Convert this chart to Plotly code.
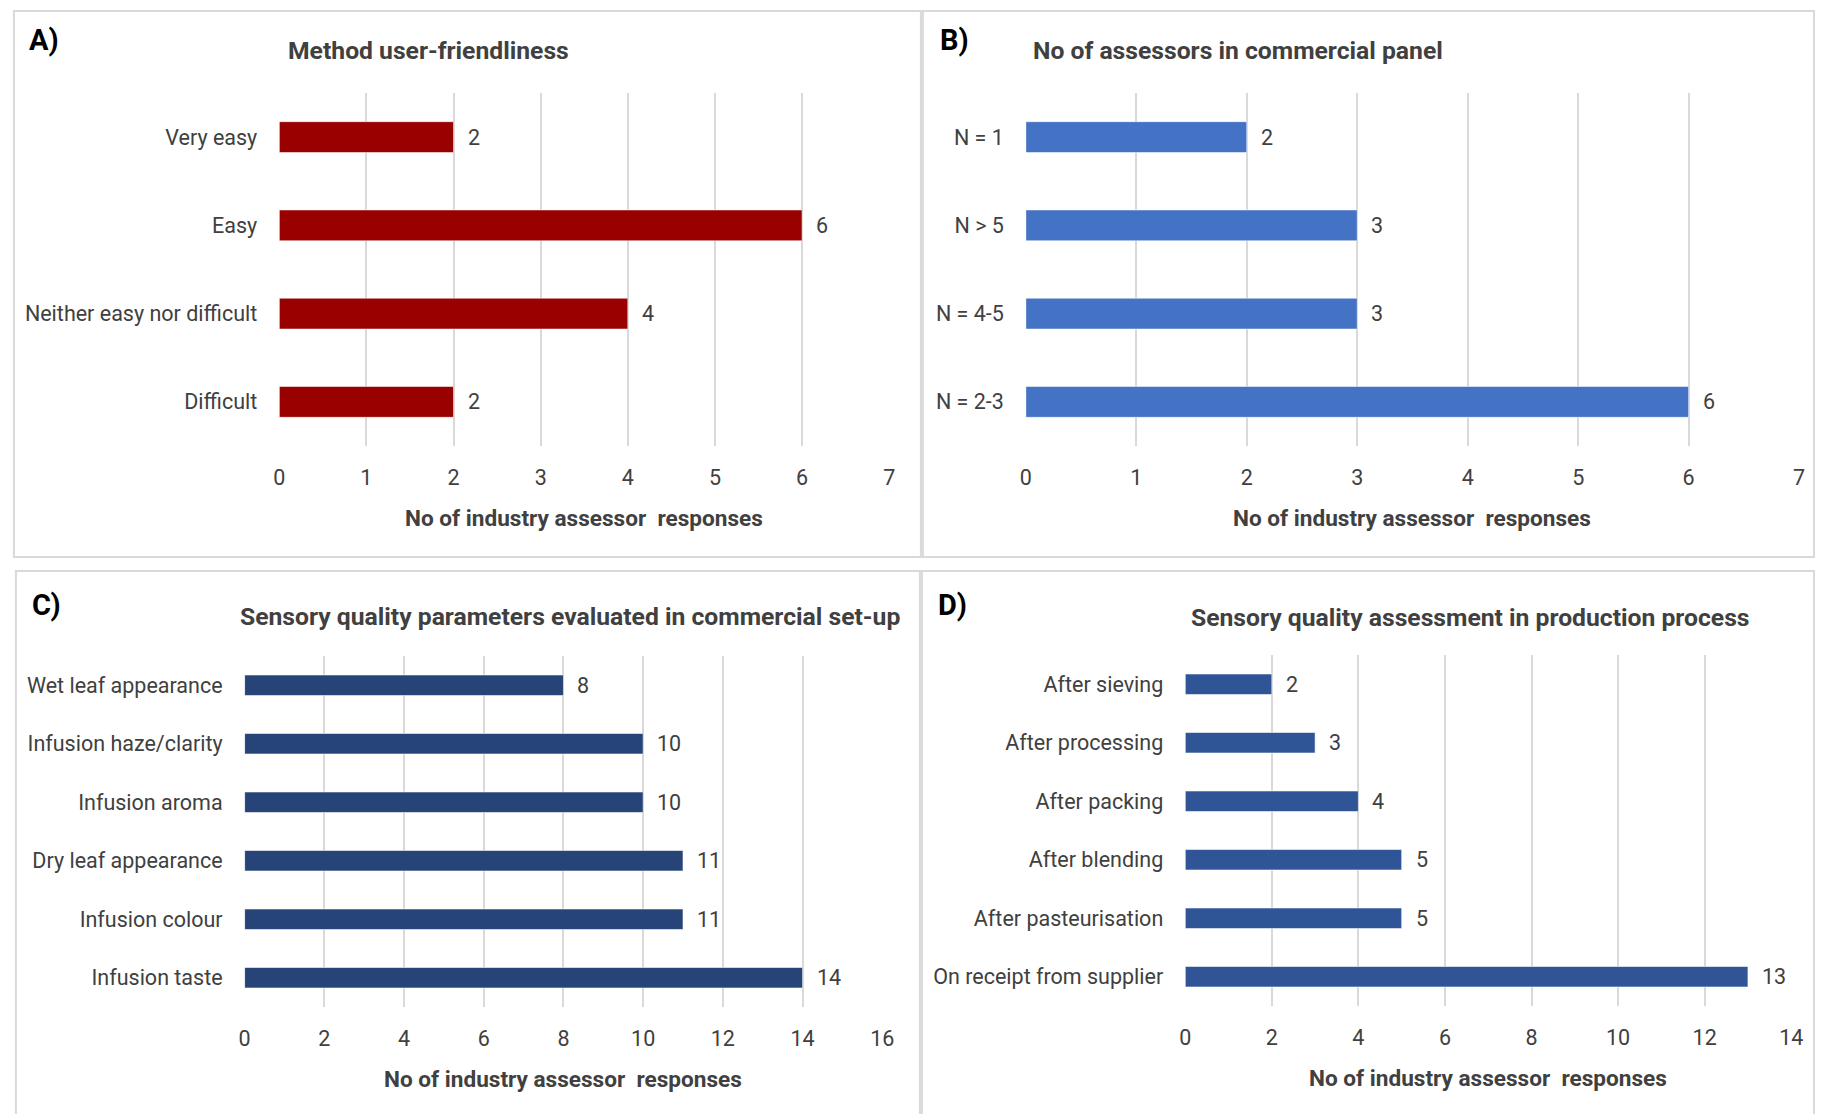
import plotly.graph_objects as go

W, H = 1825, 1114

# Panel A: method user-friendliness
a_cats = ["Very easy", "Easy", "Neither easy nor difficult", "Difficult"]
a_vals = [2, 6, 4, 2]
a_ticks = [0, 1, 2, 3, 4, 5, 6, 7]

# Panel B: number of assessors in commercial panel
b_cats = ["N = 1", "N > 5", "N = 4-5", "N = 2-3"]
b_vals = [2, 3, 3, 6]
b_ticks = [0, 1, 2, 3, 4, 5, 6, 7]

# Panel C: sensory quality parameters
c_cats = ["Wet leaf appearance", "Infusion haze/clarity", "Infusion aroma",
          "Dry leaf appearance", "Infusion colour", "Infusion taste"]
c_vals = [8, 10, 10, 11, 11, 14]
c_ticks = [0, 2, 4, 6, 8, 10, 12, 14, 16]

# Panel D: assessment stage in production process
d_cats = ["After sieving", "After processing", "After packing",
          "After blending", "After pasteurisation", "On receipt from supplier"]
d_vals = [2, 3, 4, 5, 5, 13]
d_ticks = [0, 2, 4, 6, 8, 10, 12, 14]

titles = ["Method user-friendliness",
          "No of assessors in commercial panel",
          "Sensory quality parameters evaluated in commercial set-up",
          "Sensory quality assessment in production process"]
letters = ["A)", "B)", "C)", "D)"]
xlabel = "No of industry assessor  responses"

colors = ["#990000", "#4472C4", "#264478", "#2F5597"]

FONT = "Roboto, sans-serif"
TXT = "#404040"
LBL = 21.5

# pixel layout of each panel: plot box (x0, x1, y0, y1), title centre, letter pos, frame
panels = [
    dict(cats=a_cats, vals=a_vals, ticks=a_ticks, box=(276, 892, 93, 446),
         title=(427, 50), letter=(21, 40), frame=(8, 924, 11, 557)),
    dict(cats=b_cats, vals=b_vals, ticks=b_ticks, box=(1030, 1811, 93, 446),
         title=(1244, 50), letter=(941, 40), frame=(926, 1826, 11, 557)),
    dict(cats=c_cats, vals=c_vals, ticks=c_ticks, box=(241, 885, 656, 1007),
         title=(570, 616), letter=(24, 605), frame=(10, 923, 571, 1116)),
    dict(cats=d_cats, vals=d_vals, ticks=d_ticks, box=(1191, 1803, 655, 1006),
         title=(1479, 617), letter=(939, 605), frame=(925, 1826, 571, 1116)),
]

fig = go.Figure()
annotations = []
shapes = []


def px(x):
    return x / W


def py(y):
    return 1 - y / H


for i, p in enumerate(panels):
    n = i + 1
    xa = "x" if n == 1 else f"x{n}"
    ya = "y" if n == 1 else f"y{n}"
    fig.add_trace(go.Bar(
        x=p["vals"], y=p["cats"], orientation="h", xaxis=xa, yaxis=ya,
        marker=dict(color=colors[i], line=dict(color="rgba(255,255,255,0.55)", width=1)),
        width=0.35, showlegend=False, hoverinfo="x+y",
    ))
    x0, x1, y0, y1 = p["box"]
    ticks = p["ticks"]
    xkey = "xaxis" if n == 1 else f"xaxis{n}"
    ykey = "yaxis" if n == 1 else f"yaxis{n}"
    fig.update_layout(**{
        xkey: dict(domain=[px(x0), px(x1)], anchor=ya, range=[ticks[0], ticks[-1]],
                   tickvals=ticks, showgrid=True, gridcolor="#D9D9D9", gridwidth=1.6,
                   zeroline=False, showline=False, ticks="",
                   tickfont=dict(family=FONT, size=LBL, color=TXT),
                   ticklabelstandoff=16, fixedrange=True),
        ykey: dict(domain=[py(y1), py(y0)], anchor=xa,
                   categoryorder="array", categoryarray=p["cats"][::-1],
                   range=[-0.5, len(p["cats"]) - 0.5],
                   showgrid=False, zeroline=False, showline=False, ticks="",
                   tickfont=dict(family=FONT, size=LBL, color=TXT),
                   ticklabelstandoff=21, fixedrange=True),
    })
    # value labels beside bar ends
    for c, v in zip(p["cats"], p["vals"]):
        annotations.append(dict(x=v, y=c, xref=xa, yref=ya, text=str(v),
                                showarrow=False, xanchor="left", xshift=12,
                                font=dict(family=FONT, size=LBL, color=TXT)))
    # panel title
    tx, ty = p["title"]
    annotations.append(dict(x=px(tx), y=py(ty), xref="paper", yref="paper",
                            text=f"<b>{titles[i]}</b>", showarrow=False,
                            xanchor="center", yanchor="middle",
                            font=dict(family=FONT, size=24.7, color=TXT)))
    # panel letter
    lx, ly = p["letter"]
    annotations.append(dict(x=px(lx), y=py(ly), xref="paper", yref="paper",
                            text=f"<b>{letters[i]}</b>", showarrow=False,
                            xanchor="left", yanchor="middle",
                            font=dict(family=FONT, size=29, color="#000000")))
    # x-axis title
    annotations.append(dict(x=px((x0 + x1) / 2), y=py(y1 + 72), xref="paper", yref="paper",
                            text=f"<b>{xlabel}</b>", showarrow=False,
                            xanchor="center", yanchor="middle",
                            font=dict(family=FONT, size=22.6, color=TXT)))
    # panel frame
    fx0, fx1, fy0, fy1 = p["frame"]
    shapes.append(dict(type="rect", xref="paper", yref="paper",
                       x0=px(fx0), x1=px(fx1), y0=py(fy1), y1=py(fy0),
                       line=dict(color="#D9D9D9", width=2), fillcolor="rgba(0,0,0,0)"))

fig.update_layout(
    width=W, height=H, autosize=False, margin=dict(l=0, r=0, t=0, b=0),
    paper_bgcolor="white", plot_bgcolor="white",
    annotations=annotations, shapes=shapes, bargap=0.65,
    font=dict(family=FONT, color=TXT),
)

fig.write_html("out.html", config={"responsive": False})
